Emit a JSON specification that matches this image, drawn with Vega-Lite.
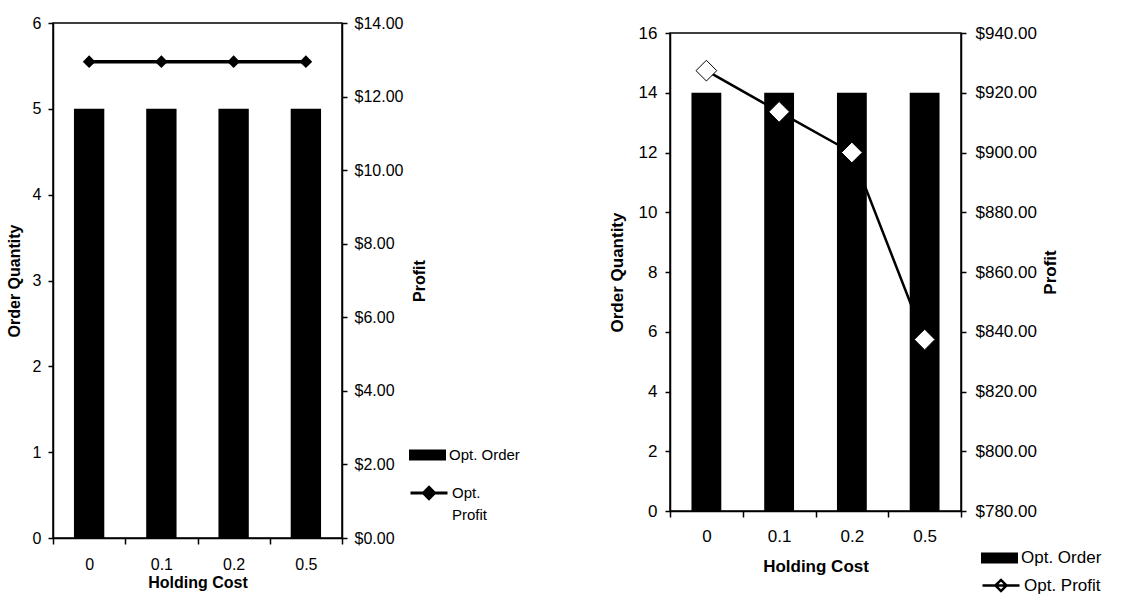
{
  "$schema": "https://vega.github.io/schema/vega-lite/v6.json",
  "padding": {"left": 5, "top": 7, "right": 88, "bottom": 12},
  "background": "white",
  "spacing": 86,
  "config": {
    "font": "Liberation Sans",
    "view": {"stroke": "black", "strokeWidth": 1.5},
    "axis": {
      "labelFont": "Liberation Sans",
      "labelFontSize": 16,
      "labelColor": "black",
      "titleFont": "Liberation Sans",
      "titleFontSize": 16,
      "titleFontWeight": "bold",
      "titleColor": "black",
      "domainColor": "black",
      "domainWidth": 1.5,
      "tickColor": "black",
      "tickWidth": 1.5,
      "tickSize": 5,
      "grid": false
    },
    "legend": {
      "padding": 0,
      "labelFont": "Liberation Sans",
      "labelFontSize": 15,
      "labelColor": "black",
      "labelOffset": 3,
      "title": null
    }
  },
  "resolve": {
    "scale": {"fill": "independent", "stroke": "independent"},
    "legend": {"fill": "independent", "stroke": "independent"}
  },
  "hconcat": [
    {
      "spacing": 0,
      "resolve": {
        "scale": {"fill": "independent", "stroke": "independent"},
        "legend": {"fill": "independent", "stroke": "independent"}
      },
      "vconcat": [
        {
          "width": 289,
          "height": 1,
          "view": {"stroke": null},
          "data": {"values": [{"gap": 0}]},
          "mark": {"type": "point", "opacity": 0},
          "encoding": {}
        },
        {
          "width": 289,
          "height": 515,
          "data": {
            "values": [
              {"holding": "0", "order": 5, "profit": 12.95},
              {"holding": "0.1", "order": 5, "profit": 12.95},
              {"holding": "0.2", "order": 5, "profit": 12.95},
              {"holding": "0.5", "order": 5, "profit": 12.95}
            ]
          },
          "encoding": {
            "x": {
              "field": "holding",
              "type": "nominal",
              "sort": null,
              "scale": {"paddingInner": 0, "paddingOuter": 0},
              "axis": {
                "title": "Holding Cost",
                "labelAngle": 0,
                "tickBand": "extent",
                "tickSize": 6,
                "labelPadding": 12,
                "titlePadding": 2
              }
            }
          },
          "layer": [
            {
              "mark": {"type": "bar", "width": {"band": 0.42}},
              "encoding": {
                "y": {
                  "field": "order",
                  "type": "quantitative",
                  "scale": {"domain": [0, 6]},
                  "axis": {
                    "title": "Order Quantity",
                    "values": [0, 1, 2, 3, 4, 5, 6],
                    "labelPadding": 7,
                    "titlePadding": 10
                  }
                },
                "fill": {
                  "datum": "Opt. Order",
                  "type": "nominal",
                  "scale": {"range": ["black"]},
                  "legend": {
                    "orient": "none",
                    "legendX": 356,
                    "legendY": 413.5,
                    "symbolType": "M-1,-0.3H1V0.3H-1Z",
                    "symbolSize": 1369,
                    "symbolStrokeWidth": 0
                  }
                }
              }
            },
            {
              "encoding": {
                "y": {
                  "field": "profit",
                  "type": "quantitative",
                  "scale": {"domain": [0, 14]},
                  "axis": {
                    "orient": "right",
                    "title": "Profit",
                    "titleAngle": 270,
                    "format": "$,.2f",
                    "values": [0, 2, 4, 6, 8, 10, 12, 14],
                    "labelPadding": 7,
                    "titlePadding": 25
                  }
                }
              },
              "layer": [
                {
                  "mark": {"type": "line", "strokeWidth": 3.5},
                  "encoding": {
                    "stroke": {
                      "datum": "Opt. Profit",
                      "type": "nominal",
                      "scale": {"range": ["black"]},
                      "legend": {
                        "orient": "none",
                        "legendX": 356,
                        "legendY": 450,
                        "symbolType": "M-1,0H1M-0.3,0L0,-0.3L0.3,0L0,0.3Z",
                        "symbolSize": 1369,
                        "symbolStrokeWidth": 3,
                        "labelExpr": "['Opt.', 'Profit']",
                        "encode": {
                          "symbols": {"update": {"fill": {"value": "black"}}},
                          "labels": {"update": {"lineHeight": {"value": 22}}}
                        }
                      }
                    }
                  }
                },
                {
                  "mark": {"type": "point", "shape": "diamond", "filled": true, "size": 160, "color": "black", "opacity": 1}
                }
              ]
            }
          ],
          "resolve": {"scale": {"y": "independent"}}
        }
      ]
    },
    {
      "spacing": 0,
      "resolve": {
        "scale": {"fill": "independent", "stroke": "independent"},
        "legend": {"fill": "independent", "stroke": "independent"}
      },
      "vconcat": [
        {
          "width": 291,
          "height": 13,
          "view": {"stroke": null},
          "data": {"values": [{"gap": 0}]},
          "mark": {"type": "point", "opacity": 0},
          "encoding": {}
        },
        {
          "width": 291,
          "height": 478,
          "data": {
            "values": [
              {"holding": "0", "order": 14, "profit": 927.4},
              {"holding": "0.1", "order": 14, "profit": 913.6},
              {"holding": "0.2", "order": 14, "profit": 900.0},
              {"holding": "0.5", "order": 14, "profit": 837.4}
            ]
          },
          "encoding": {
            "x": {
              "field": "holding",
              "type": "nominal",
              "sort": null,
              "scale": {"paddingInner": 0, "paddingOuter": 0},
              "axis": {
                "title": "Holding Cost",
                "labelAngle": 0,
                "labelFontSize": 17,
                "titleFontSize": 17,
                "tickBand": "extent",
                "tickSize": 6,
                "labelPadding": 11,
                "titlePadding": 14
              }
            }
          },
          "layer": [
            {
              "mark": {"type": "bar", "width": {"band": 0.41}},
              "encoding": {
                "y": {
                  "field": "order",
                  "type": "quantitative",
                  "scale": {"domain": [0, 16]},
                  "axis": {
                    "title": "Order Quantity",
                    "labelFontSize": 17,
                    "titleFontSize": 17,
                    "values": [0, 2, 4, 6, 8, 10, 12, 14, 16],
                    "labelPadding": 8,
                    "titlePadding": 12
                  }
                },
                "fill": {
                  "datum": "Opt. Order",
                  "type": "nominal",
                  "scale": {"range": ["black"]},
                  "legend": {
                    "orient": "none",
                    "legendX": 311,
                    "legendY": 506.5,
                    "labelFontSize": 17,
                    "symbolType": "M-1,-0.3H1V0.3H-1Z",
                    "symbolSize": 1369,
                    "symbolStrokeWidth": 0
                  }
                }
              }
            },
            {
              "encoding": {
                "y": {
                  "field": "profit",
                  "type": "quantitative",
                  "scale": {"domain": [780, 940]},
                  "axis": {
                    "orient": "right",
                    "title": "Profit",
                    "titleAngle": 270,
                    "labelFontSize": 17,
                    "titleFontSize": 17,
                    "format": "$,.2f",
                    "values": [780, 800, 820, 840, 860, 880, 900, 920, 940],
                    "labelPadding": 9,
                    "titlePadding": 23
                  }
                }
              },
              "layer": [
                {
                  "mark": {"type": "line", "strokeWidth": 2.5},
                  "encoding": {
                    "stroke": {
                      "datum": "Opt. Profit",
                      "type": "nominal",
                      "scale": {"range": ["black"]},
                      "legend": {
                        "orient": "none",
                        "legendX": 311,
                        "legendY": 532.5,
                        "labelFontSize": 17,
                        "symbolType": "M-1,0H1M-0.3,0L0,-0.3L0.3,0L0,0.3Z",
                        "symbolSize": 1369,
                        "symbolStrokeWidth": 2.5,
                        "encode": {"symbols": {"update": {"fill": {"value": "white"}}}}
                      }
                    }
                  }
                },
                {
                  "mark": {"type": "point", "shape": "diamond", "filled": true, "size": 430, "fill": "white", "stroke": "black", "strokeWidth": 1, "opacity": 1}
                }
              ]
            }
          ],
          "resolve": {"scale": {"y": "independent"}}
        }
      ]
    }
  ]
}
